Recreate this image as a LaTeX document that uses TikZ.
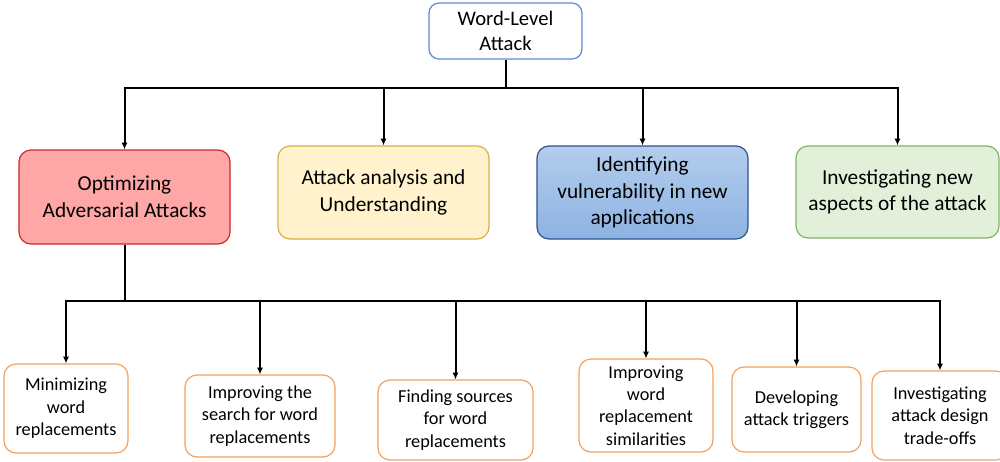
\documentclass[tikz,border=0pt]{standalone}
\usepackage{fontspec}
\setmainfont{Carlito}
\usetikzlibrary{arrows.meta}
\definecolor{topdraw}{HTML}{5B8BD6}
\definecolor{optfill}{HTML}{FFA6A6}
\definecolor{optdraw}{HTML}{CC2A26}
\definecolor{anafill}{HTML}{FFF2CC}
\definecolor{anadraw}{HTML}{D6B04A}
\definecolor{vultop}{HTML}{B3CDEC}
\definecolor{vulbot}{HTML}{8DB3E2}
\definecolor{vuldraw}{HTML}{2E528F}
\definecolor{newfill}{HTML}{E2F0D9}
\definecolor{newdraw}{HTML}{82B366}
\definecolor{leafdraw}{HTML}{F4A15E}
\begin{document}
\begin{tikzpicture}[x=0.75pt,y=-0.75pt,
  box/.style={rounded corners=9pt, inner sep=0pt, align=center, line width=0.9pt},
  midbox/.style={box, font=\fontsize{16}{20}\selectfont},
  leaf/.style={box, draw=leafdraw, fill=white, font=\fontsize{13.7}{16.8}\selectfont},
  conn/.style={line width=1.5pt, draw=black},
  arr/.style={conn, -{Latex[length=5pt,width=4.5pt]}}]
\clip (0,0) rectangle (1000,461);
\fill[white] (0,0) rectangle (1000,461);

\node[box, draw=topdraw, fill=white, rounded corners=7.5pt, minimum width=114.75pt, minimum height=42pt,
  font=\fontsize{15.5}{18.5}\selectfont] (top) at (505.5,31) {Word-Level\\Attack};

\node[midbox, draw=optdraw, fill=optfill, minimum width=158.25pt, minimum height=70.5pt] (opt) at (124.5,197) {Optimizing\\Adversarial Attacks};
\node[midbox, draw=anadraw, fill=anafill, minimum width=158.25pt, minimum height=69.75pt] (ana) at (383.5,192.5) {Attack analysis and\\Understanding};
\node[midbox, draw=vuldraw, top color=vultop, bottom color=vulbot, minimum width=158.25pt, minimum height=69.75pt] (vul) at (642.5,192.5) {Identifying\\vulnerability in new\\applications};
\node[midbox, draw=newdraw, fill=newfill, minimum width=152.25pt, minimum height=69pt] (new) at (897.5,192) {Investigating new\\aspects of the attack};

\node[leaf, minimum width=93pt, minimum height=66.75pt] (m1) at (66,408.5) {Minimizing\\word\\replacements};
\node[leaf, minimum width=112.5pt, minimum height=61.5pt] (m2) at (260,416) {Improving the\\search for word\\replacements};
\node[leaf, minimum width=116.25pt, minimum height=60pt] (m3) at (455.5,420) {Finding sources\\for word\\replacements};
\node[leaf, minimum width=100.5pt, minimum height=69.75pt] (m4) at (646,405.5) {Improving\\word\\replacement\\similarities};
\node[leaf, minimum width=96.75pt, minimum height=63.75pt] (m5) at (796.5,409.5) {Developing\\attack triggers};
\node[leaf, minimum width=102pt, minimum height=66.75pt] (m6) at (940,415.5) {Investigating\\attack design\\trade-offs};

\coordinate (j1) at (505.5,87.5);
\draw[conn] (top.south) -- (j1);
\draw[arr] (j1) -| (opt.north);
\draw[arr] (j1) -| (ana.north);
\draw[arr] (j1) -| (vul.north);
\draw[arr] (j1) -| (new.north);

\coordinate (j2) at (124.5,300.5);
\draw[conn] (opt.south) -- (j2);
\draw[arr] (j2) -| (m1.north);
\draw[arr] (j2) -| (m2.north);
\draw[arr] (j2) -| (m3.north);
\draw[arr] (j2) -| (m4.north);
\draw[arr] (j2) -| (m5.north);
\draw[arr] (j2) -| (m6.north);
\end{tikzpicture}
\end{document}
